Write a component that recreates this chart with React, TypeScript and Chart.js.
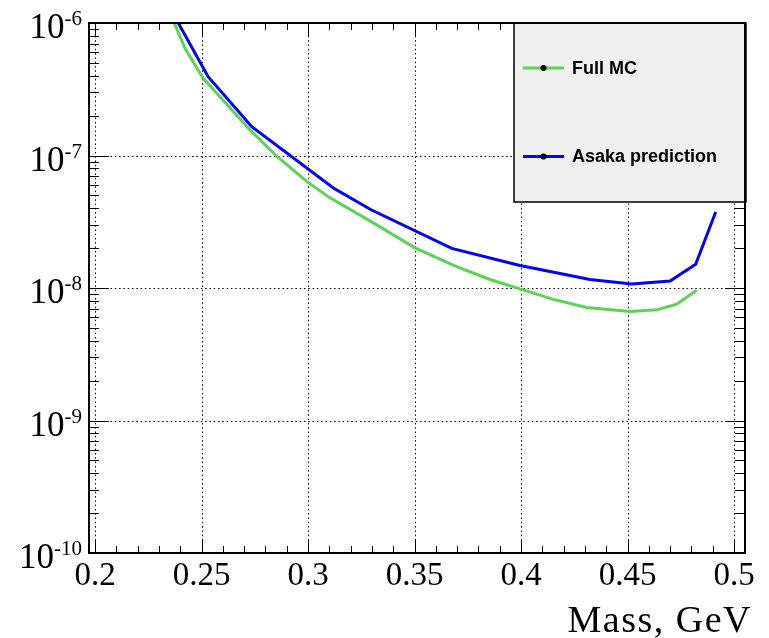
import React, { useEffect, useRef } from 'react';
import { Chart, registerables } from 'chart.js';

Chart.register(...registerables);

// ---- data ----
const massFullMC = [0.2372, 0.2423, 0.2508, 0.2728, 0.2849, 0.2994, 0.3103, 0.3307, 0.3502, 0.3698, 0.3854, 0.3995, 0.4152, 0.4308, 0.4512, 0.4637, 0.4731, 0.4825];
const fullMC = [1.0e-6, 6.42e-7, 3.82e-7, 1.56e-7, 1.0e-7, 6.38e-8, 4.79e-8, 3.1e-8, 2.01e-8, 1.45e-8, 1.16e-8, 9.86e-9, 8.2e-9, 7.13e-9, 6.65e-9, 6.84e-9, 7.55e-9, 9.61e-9];

const massAsaka = [0.2391, 0.2531, 0.2736, 0.3119, 0.3294, 0.3675, 0.3995, 0.4324, 0.452, 0.47, 0.482, 0.4914];
const asakaPrediction = [1.0e-6, 3.93e-7, 1.65e-7, 5.69e-8, 3.91e-8, 1.99e-8, 1.48e-8, 1.16e-8, 1.07e-8, 1.13e-8, 1.51e-8, 3.75e-8];

const seriesLabels = ['Full MC', 'Asaka prediction'];
const seriesColors = ['#59d454', '#0000ff'];

const xTickValues = [0.2, 0.25, 0.3, 0.35, 0.4, 0.45, 0.5];
const xTickLabels = ['0.2', '0.25', '0.3', '0.35', '0.4', '0.45', '0.5'];
const yDecadeExponents = [-10, -9, -8, -7, -6];
const yLabelBase = '10';
const xTitle = 'Mass, GeV';

const X_MIN = 0.19718;
const X_MAX = 0.50516;
const Y_MIN = 1e-10;
const Y_MAX = 1e-6;

const SERIF = '"Liberation Serif", "Times New Roman", serif';
const SANS = '"Liberation Sans", Arial, sans-serif';

const rootPlugin = {
  id: 'rootStyle',
  beforeDatasetsDraw(chart: any) {
    const { ctx, chartArea: a, scales } = chart;
    const x = scales.x;
    const y = scales.y;
    ctx.save();
    ctx.beginPath();
    ctx.rect(a.left, a.top, a.right - a.left, a.bottom - a.top);
    ctx.clip();
    ctx.strokeStyle = '#000';
    ctx.lineWidth = 1;
    ctx.setLineDash([1.5, 2.8]);
    xTickValues.forEach((v) => {
      const px = Math.round(x.getPixelForValue(v)) + 0.5;
      ctx.beginPath();
      ctx.moveTo(px, a.top);
      ctx.lineTo(px, a.bottom);
      ctx.stroke();
    });
    yDecadeExponents.forEach((e) => {
      const py = Math.round(y.getPixelForValue(Math.pow(10, e))) + 0.5;
      ctx.beginPath();
      ctx.moveTo(a.left, py);
      ctx.lineTo(a.right, py);
      ctx.stroke();
    });
    ctx.restore();
  },
  afterDatasetsDraw(chart: any) {
    const { ctx, chartArea: a, scales } = chart;
    const x = scales.x;
    const y = scales.y;
    ctx.save();
    ctx.strokeStyle = '#000';
    ctx.lineWidth = 1;
    ctx.setLineDash([]);
    // x ticks (bottom and top), minor every 0.01
    for (let k = 19; k <= 51; k++) {
      const v = k / 100;
      if (v < X_MIN || v > X_MAX) continue;
      const px = Math.round(x.getPixelForValue(v)) + 0.5;
      const len = k % 5 === 0 ? 13 : 7;
      ctx.beginPath();
      ctx.moveTo(px, a.bottom);
      ctx.lineTo(px, a.bottom - len);
      ctx.moveTo(px, a.top);
      ctx.lineTo(px, a.top + len);
      ctx.stroke();
    }
    // y ticks (left and right)
    yDecadeExponents.forEach((e) => {
      for (let m = 1; m <= 9; m++) {
        const v = m * Math.pow(10, e);
        if (v > Y_MAX * 1.0001) continue;
        const py = Math.round(y.getPixelForValue(v)) + 0.5;
        const len = m === 1 ? 20 : 10;
        ctx.beginPath();
        ctx.moveTo(a.left, py);
        ctx.lineTo(a.left + len, py);
        ctx.moveTo(a.right, py);
        ctx.lineTo(a.right - len, py);
        ctx.stroke();
      }
    });
    // y labels 10^e
    ctx.fillStyle = '#000';
    yDecadeExponents.forEach((e) => {
      const py = y.getPixelForValue(Math.pow(10, e));
      const exp = String(e);
      const right = 82;
      ctx.font = '21px ' + SERIF;
      const ew = ctx.measureText(exp).width;
      ctx.textAlign = 'left';
      ctx.textBaseline = 'alphabetic';
      ctx.fillText(exp, right - ew, py + 2);
      ctx.font = '35px ' + SERIF;
      ctx.textAlign = 'right';
      ctx.fillText(yLabelBase, right - ew, py + 15);
    });
    // axis title
    ctx.font = '38px ' + SERIF;
    ctx.textAlign = 'right';
    ctx.textBaseline = 'alphabetic';
    try { (ctx as any).letterSpacing = '1.5px'; } catch (err) { /* ignore */ }
    ctx.fillText(xTitle, 752, 632);
    try { (ctx as any).letterSpacing = '0px'; } catch (err) { /* ignore */ }

    // legend
    const lx = 514, ly = a.top, lw = 746 - 514, lh = 202 - a.top;
    ctx.fillStyle = '#f0f0f0';
    ctx.fillRect(lx, ly, lw, lh);
    ctx.strokeStyle = '#000';
    ctx.lineWidth = 1.5;
    ctx.strokeRect(lx, ly, lw, lh);
    const rows = [68, 156.5];
    chart.data.datasets.forEach((ds: any, i: number) => {
      const ry = rows[i];
      ctx.strokeStyle = ds.borderColor;
      ctx.lineWidth = 3;
      ctx.beginPath();
      ctx.moveTo(523, ry);
      ctx.lineTo(564, ry);
      ctx.stroke();
      ctx.fillStyle = '#000';
      ctx.beginPath();
      ctx.arc(543.5, ry, 3, 0, Math.PI * 2);
      ctx.fill();
      ctx.font = 'bold 18px ' + SANS;
      ctx.textAlign = 'left';
      ctx.textBaseline = 'middle';
      ctx.fillText(ds.label, 572, ry + 1);
    });

    // frame
    ctx.strokeStyle = '#000';
    ctx.lineWidth = 2;
    ctx.strokeRect(a.left, a.top, a.right - a.left, a.bottom - a.top);
    ctx.restore();
  },
};

export default function App() {
  const ref = useRef<HTMLCanvasElement>(null);
  useEffect(() => {
    const makeSeries = (xs: number[], ys: number[]) => xs.map((m, i) => ({ x: m, y: ys[i] }));
    const chart = new Chart(ref.current as HTMLCanvasElement, {
      type: 'line',
      data: {
        datasets: [
          {
            label: seriesLabels[0],
            data: makeSeries(massFullMC, fullMC),
            borderColor: seriesColors[0],
            backgroundColor: seriesColors[0],
            borderWidth: 3,
            pointRadius: 0,
            tension: 0,
          },
          {
            label: seriesLabels[1],
            data: makeSeries(massAsaka, asakaPrediction),
            borderColor: seriesColors[1],
            backgroundColor: seriesColors[1],
            borderWidth: 3,
            pointRadius: 0,
            tension: 0,
          },
        ],
      },
      options: {
        animation: false,
        responsive: false,
        devicePixelRatio: 1,
        layout: { padding: { left: 0, top: 23, right: 24, bottom: 0 } },
        plugins: { legend: { display: false }, tooltip: { enabled: false } },
        scales: {
          x: {
            type: 'linear',
            min: X_MIN,
            max: X_MAX,
            grid: { display: false, drawTicks: false },
            border: { display: false },
            afterBuildTicks: (scale: any) => {
              scale.ticks = xTickValues.map((v) => ({ value: v }));
            },
            afterFit: (scale: any) => {
              scale.height = 85;
            },
            ticks: {
              autoSkip: false,
              maxRotation: 0,
              minRotation: 0,
              padding: 4,
              color: '#000',
              font: { family: SERIF, size: 33 },
              callback: (_v: any, i: number) => xTickLabels[i],
            },
          },
          y: {
            type: 'logarithmic',
            min: Y_MIN,
            max: Y_MAX,
            grid: { display: false, drawTicks: false },
            border: { display: false },
            ticks: { display: false },
            afterFit: (scale: any) => {
              scale.width = 89;
            },
          },
        },
      },
      plugins: [rootPlugin],
    } as any);
    return () => chart.destroy();
  }, []);
  return (
    <div style={{ position: 'absolute', left: 0, top: 0, width: 769, height: 638, background: '#fff' }}>
      <canvas ref={ref} width={769} height={638} style={{ display: 'block' }} />
    </div>
  );
}
